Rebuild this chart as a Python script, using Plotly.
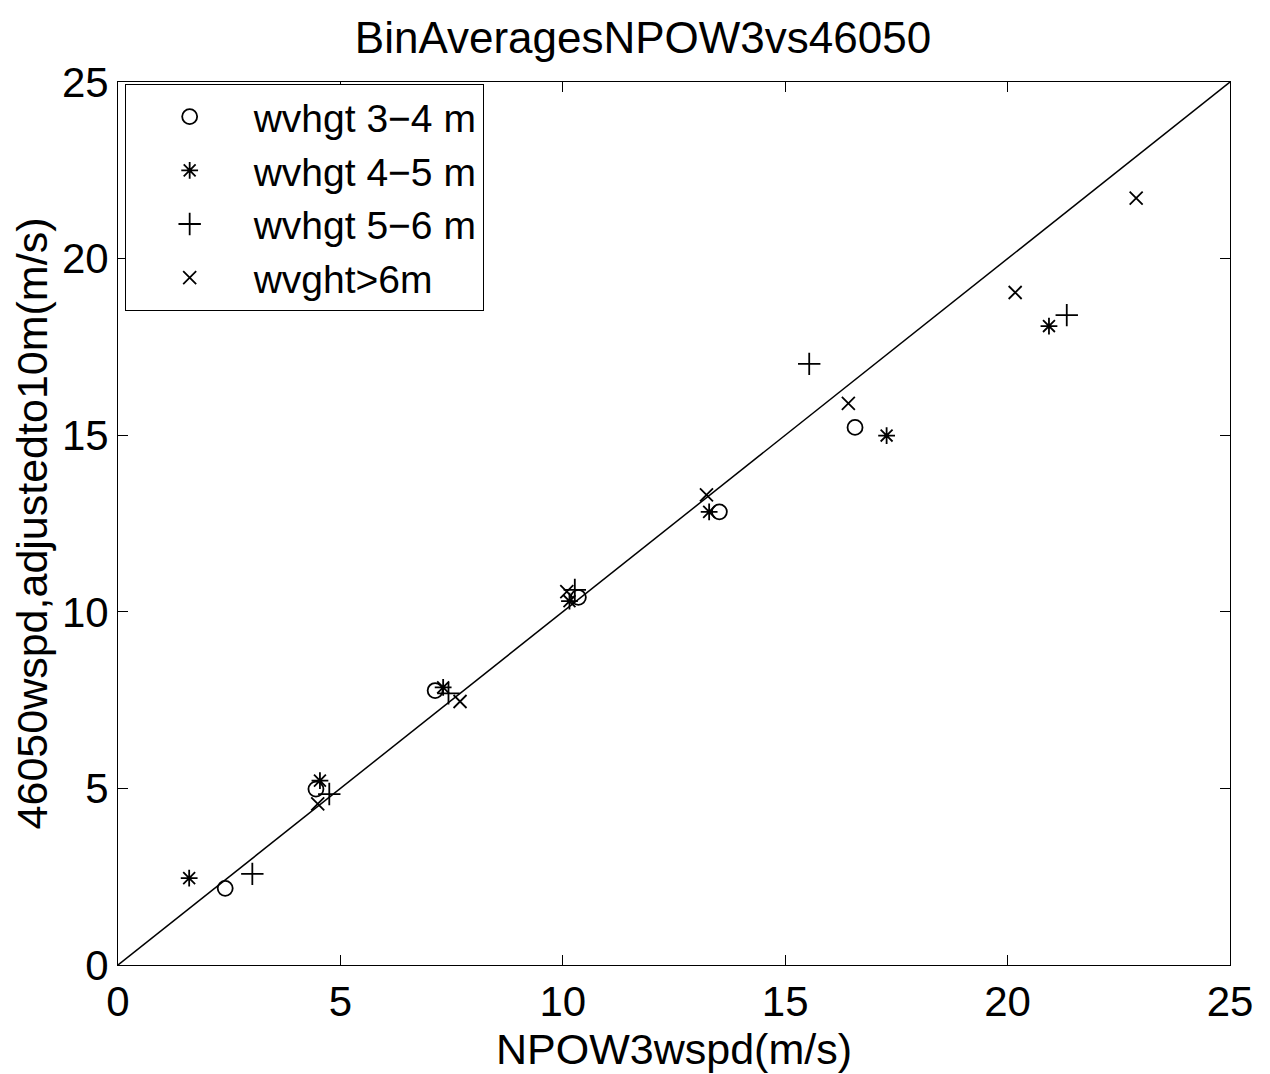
import plotly.graph_objects as go

# Data
wv34_x = [2.41, 4.45, 7.13, 10.35, 13.52, 16.57]
wv34_y = [2.17, 4.98, 7.77, 10.41, 12.83, 15.22]

wv45_x = [1.60, 4.54, 7.31, 10.15, 13.29, 17.28, 20.93]
wv45_y = [2.46, 5.22, 7.86, 10.30, 12.83, 14.99, 18.09]

wv56_x = [3.02, 4.75, 7.43, 10.27, 15.54, 21.33]
wv56_y = [2.58, 4.84, 7.69, 10.62, 17.02, 18.40]

wv6_x = [4.49, 7.69, 10.09, 13.23, 16.42, 20.17, 22.89]
wv6_y = [4.56, 7.46, 10.57, 13.31, 15.90, 19.04, 21.71]

line_x = [0, 25]
line_y = [0, 25]

tick_vals = [0, 5, 10, 15, 20, 25]

FONT = "Liberation Sans, Arial, sans-serif"

fig = go.Figure()
fig.add_trace(go.Scatter(x=line_x, y=line_y, mode="lines",
                         line=dict(color="black", width=1.5), showlegend=False))

series = [
    ("wvhgt 3\u22124 m", wv34_x, wv34_y, "circle-open", 15),
    ("wvhgt 4\u22125 m", wv45_x, wv45_y, "asterisk-open", 14),
    ("wvhgt 5\u22126 m", wv56_x, wv56_y, "cross-thin-open", 16),
    ("wvght>6m", wv6_x, wv6_y, "x-thin-open", 13),
]
for name, xs, ys, sym, sz in series:
    fig.add_trace(go.Scatter(x=xs, y=ys, mode="markers", name=name,
                             marker=dict(symbol=sym, size=sz, color="black",
                                         line=dict(color="black", width=1.8))))

axis_common = dict(range=[0, 25], tickvals=tick_vals, ticks="inside", ticklen=10,
                   tickwidth=1, tickcolor="black", showline=True, linecolor="black",
                   linewidth=1, mirror="ticks", showgrid=False, zeroline=False,
                   tickfont=dict(family=FONT, size=42, color="black"))

fig.update_xaxes(**axis_common,
                 title=dict(text="NPOW3wspd(m/s)", font=dict(family=FONT, size=43, color="black"),
                            standoff=0))
fig.update_yaxes(**axis_common,
                 title=dict(text="46050wspd,adjustedto10m(m/s)",
                            font=dict(family=FONT, size=43, color="black"), standoff=6))

fig.update_layout(
    width=1270, height=1074,
    margin=dict(l=110, r=48, t=74, b=117),
    paper_bgcolor="white", plot_bgcolor="white",
    title=dict(text="BinAveragesNPOW3vs46050", x=0.5, xanchor="center", y=0.972, yanchor="middle",
               font=dict(family=FONT, size=44, color="black")),
    legend=dict(x=0.006, y=0.998, xanchor="left", yanchor="top",
                bordercolor="black", borderwidth=1, bgcolor="white",
                font=dict(family=FONT, size=39, color="black"),
                itemwidth=118, tracegroupgap=0),
    showlegend=True,
)

fig.write_html("out.html")
